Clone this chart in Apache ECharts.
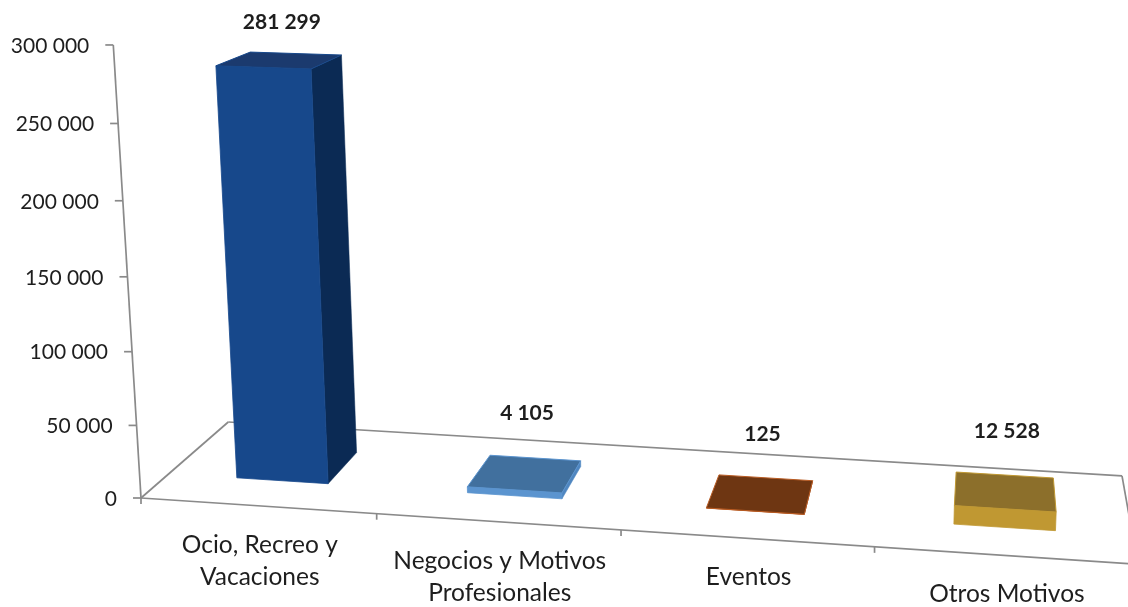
<!DOCTYPE html>
<html><head><meta charset="utf-8">
<script src="https://cdn.jsdelivr.net/npm/echarts@6.0.0/dist/echarts.min.js"></script>
<style>html,body{margin:0;padding:0;background:#fff}#c{width:1128px;height:607px}</style>
</head><body><div id="c"></div>
<script>
// ---- data ----
const categories = ['Ocio, Recreo y\nVacaciones', 'Negocios y Motivos\nProfesionales', 'Eventos', 'Otros Motivos'];
const values = [281299, 4105, 125, 12528];
const valueLabels = ['281 299', '4 105', '125', '12 528'];
const yTicks = [0, 50000, 100000, 150000, 200000, 250000, 300000];
const yTickLabels = ['0', '50 000', '100 000', '150 000', '200 000', '250 000', '300 000'];

// ---- styles ----
const barFront = ['#17488B', '#5B94CF', '#B95B22', '#C09832'];
const barTop   = ['#1B3A6E', '#41709E', '#6E3612', '#8C6F2B'];
const barSide  = ['#0B2A54', '#4F86C0', '#8A4316', '#A07E2A'];
const LINE = '#8A8A8A';
const TXT = '#1E1E1E';
const FONT = 'Lato';

// perspective camera (screen projection of world X=category band, Y=100 000 units, Z=depth 0..1)
const CAM = {ox:141, oy:498, ax:229, ay:6.58, p:-0.01774, bx:-10.97, by:-151.7, q:-0.01532, cx:113.3, cy:-27.9, r:0.114};
function P(X, Y, Z) {
  const d = 1 + CAM.p * X + CAM.q * Y + CAM.r * Z;
  return [(CAM.ox + CAM.ax * X + CAM.bx * Y + CAM.cx * Z) / d,
          (CAM.oy + CAM.ay * X + CAM.by * Y + CAM.cy * Z) / d];
}
function world(params, api, cat, val) {
  const cs = params.coordSys;
  const band = api.size([1, 0])[0];
  const unit = api.size([0, 100000])[1];
  const c = api.coord([cat, val]);
  return [(c[0] - cs.x) / band, (cs.y + cs.height - c[1]) / unit];
}
function poly(pts, fill, stroke, lw) {
  return {type: 'polygon', shape: {points: pts}, style: {fill: fill, stroke: stroke || null, lineWidth: lw || 0}};
}
function line(a, b) {
  return {type: 'line', shape: {x1: a[0], y1: a[1], x2: b[0], y2: b[1]}, style: {stroke: LINE, lineWidth: 1.7}};
}

const chart = echarts.init(document.getElementById('c'));
chart.setOption({
  animation: false,
  backgroundColor: '#fff',
  grid: {left: 0, top: 0, width: 400, height: 300},
  xAxis: {type: 'category', data: categories, show: false},
  yAxis: {type: 'value', min: 0, max: 300000, interval: 50000, show: false},
  series: [
    { // floor outline + vertical axis line
      type: 'custom', clip: false, data: [[0, yTicks[yTicks.length - 1]]],
      renderItem: function (params, api) {
        const Xmax = categories.length;
        const w = world(params, api, 0, api.value(1));
        const Ymax = w[1];
        return {type: 'group', children: [
          line(P(0, 0, 0), P(Xmax, 0, 0)),
          line(P(Xmax, 0, 0), P(Xmax, 0, 1)),
          line(P(Xmax, 0, 1), P(0, 0, 1)),
          line(P(0, 0, 1), P(0, 0, 0)),
          line(P(0, 0, 0), P(0, Ymax, 0))
        ]};
      }
    },
    { // y axis ticks + labels
      type: 'custom', clip: false, data: yTicks.map(v => [0, v]),
      renderItem: function (params, api) {
        const Y = world(params, api, 0, api.value(1))[1];
        const pt = P(0, Y, 0);
        return {type: 'group', children: [
          line(pt, [pt[0] - 8, pt[1]]),
          {type: 'text', x: pt[0] - 24, y: pt[1] + 1,
           style: {text: yTickLabels[params.dataIndex], fill: TXT, fontFamily: FONT, fontSize: 21,
                   align: 'right', verticalAlign: 'middle'}}
        ]};
      }
    },
    { // category ticks + labels
      type: 'custom', clip: false, data: categories.map((c, i) => [i, 0]),
      renderItem: function (params, api) {
        const Xc = world(params, api, api.value(0), 0)[0];
        const ch = [];
        const a = P(Xc - 0.5, 0, 0);
        ch.push(line(a, [a[0], a[1] + 6]));
        if (params.dataIndex === categories.length - 1) {
          const b = P(Xc + 0.5, 0, 0);
          ch.push(line(b, [b[0], b[1] + 6]));
        }
        const m = P(Xc, 0, 0);
        ch.push({type: 'text', x: m[0] + 2, y: m[1] + 23,
          style: {text: categories[params.dataIndex], fill: TXT, fontFamily: FONT, fontSize: 24.5,
                  lineHeight: 32, align: 'center', verticalAlign: 'top'}});
        return {type: 'group', children: ch};
      }
    },
    { // 3D bars
      type: 'custom', clip: false, data: values.map((v, i) => [i, v]),
      renderItem: function (params, api) {
        const w = world(params, api, api.value(0), api.value(1));
        const Xc = w[0], Y = w[1], i = params.dataIndex;
        const x0 = Xc - 0.2, x1 = Xc + 0.2, z0 = 0.3, z1 = 0.7;
        const ch = [];
        const cross = (F, B, T) => (B[0] - F[0]) * (T[1] - F[1]) - (B[1] - F[1]) * (T[0] - F[0]);
        if (cross(P(x1, 0, z0), P(x1, 0, z1), P(x1, Y, z0)) < 0)
          ch.push(poly([P(x1, 0, z0), P(x1, 0, z1), P(x1, Y, z1), P(x1, Y, z0)], barSide[i], barSide[i], 0.5));
        if (cross(P(x0, 0, z0), P(x0, 0, z1), P(x0, Y, z0)) > 0)
          ch.push(poly([P(x0, 0, z0), P(x0, 0, z1), P(x0, Y, z1), P(x0, Y, z0)], barSide[i], barSide[i], 0.5));
        ch.push(poly([P(x0, 0, z0), P(x1, 0, z0), P(x1, Y, z0), P(x0, Y, z0)], barFront[i], barFront[i], 0.8));
        ch.push(poly([P(x0, Y, z0), P(x1, Y, z0), P(x1, Y, z1), P(x0, Y, z1)], barTop[i], barFront[i], 1));
        return {type: 'group', children: ch};
      }
    },
    { // value labels
      type: 'custom', clip: false, data: values.map((v, i) => [i, v]),
      renderItem: function (params, api) {
        const w = world(params, api, api.value(0), api.value(1));
        const pt = P(w[0], w[1], 0.5);
        return {type: 'text', x: pt[0] + 2, y: Math.max(pt[1] - 60, 22),
          style: {text: valueLabels[params.dataIndex], fill: '#1E1E1E', fontFamily: FONT, fontSize: 21,
                  fontWeight: 'bold', align: 'center', verticalAlign: 'middle'}};
      }
    }
  ]
});
</script>
</body></html>
